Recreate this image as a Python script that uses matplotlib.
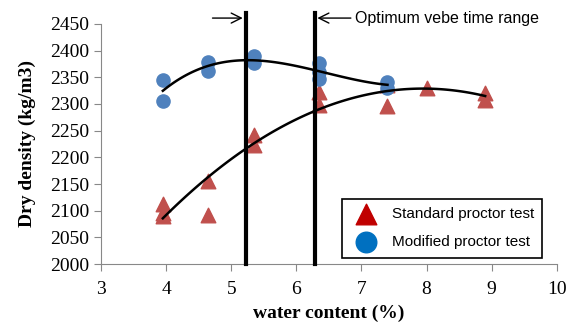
import matplotlib
matplotlib.use("Agg")
import matplotlib.pyplot as plt
import numpy as np

# standard proctor test (red triangles)
std_x = [3.95, 3.95, 3.95, 4.65, 4.65, 5.35, 5.35, 6.35, 6.35, 7.4, 7.4, 8.0, 8.9, 8.9]
std_y = [2113, 2096, 2090, 2156, 2092, 2242, 2224, 2323, 2298, 2336, 2296, 2330, 2320, 2308]

# modified proctor test (blue circles)
mod_x = [3.95, 3.95, 4.65, 4.65, 5.35, 5.35, 6.35, 6.35, 6.35, 7.4, 7.4]
mod_y = [2345, 2305, 2379, 2362, 2389, 2377, 2377, 2360, 2346, 2342, 2330]

# optimum vebe time range
vebe = [5.22, 6.28]

fig = plt.figure(figsize=(5.77, 3.28), dpi=100)
ax = fig.add_axes([0.175, 0.195, 0.79, 0.732])

ax.scatter(std_x, std_y, marker='^', s=110, color='#C0504D', zorder=3)
ax.scatter(mod_x, mod_y, marker='o', s=90, color='#4F81BD', zorder=3)

# trendlines (polynomial fits like excel)
c = np.polyfit(std_x, std_y, 2)
xx = np.linspace(min(std_x), max(std_x), 100)
ax.plot(xx, np.polyval(c, xx), color='black', lw=1.8, zorder=4)
c = np.polyfit(mod_x, mod_y, 3)
xx = np.linspace(min(mod_x), max(mod_x), 100)
ax.plot(xx, np.polyval(c, xx), color='black', lw=1.8, zorder=4)

for v in vebe:
    ax.plot([v, v], [2000, 2471], color='black', lw=3, clip_on=False, zorder=5)

ax.annotate('', xy=(vebe[0], 2461), xytext=(vebe[0] - 0.55, 2461),
            arrowprops=dict(arrowstyle='->', lw=1, color='black', mutation_scale=18),
            annotation_clip=False)
ax.annotate('', xy=(vebe[1], 2461), xytext=(vebe[1] + 0.6, 2461),
            arrowprops=dict(arrowstyle='->', lw=1, color='black', mutation_scale=18),
            annotation_clip=False)
ax.text(vebe[1] + 0.62, 2461, 'Optimum vebe time range', fontsize=11.5,
        family='Liberation Sans', va='center', ha='left')

ax.set_xlim(3, 10)
ax.set_ylim(2000, 2450)
ax.set_xticks(range(3, 11))
ax.set_yticks(range(2000, 2451, 50))
for s in ['top', 'right']:
    ax.spines[s].set_visible(False)
for s in ['left', 'bottom']:
    ax.spines[s].set_color('#888888')
ax.tick_params(direction='out', length=5, color='#888888', labelsize=14)
ax.tick_params(axis='x', pad=7)
for lab in ax.get_xticklabels() + ax.get_yticklabels():
    lab.set_family('Liberation Serif')

ax.set_xlabel('water content (%)', family='Liberation Serif', fontweight='bold',
              fontsize=14, labelpad=5)
ax.set_ylabel('Dry density (kg/m3)', family='Liberation Serif', fontweight='bold',
              fontsize=14, labelpad=10)

h1 = ax.scatter([], [], marker='^', s=220, color='#C00000')
h2 = ax.scatter([], [], marker='o', s=220, color='#0070C0')
leg = ax.legend([h1, h2], ['Standard proctor test', 'Modified proctor test'],
                loc='lower right', bbox_to_anchor=(0.985, -0.005), fancybox=False,
                edgecolor='black', prop={'family': 'Liberation Sans', 'size': 11},
                handletextpad=0.7, borderpad=0.55, labelspacing=0.9, framealpha=1)
leg.get_frame().set_linewidth(1.2)

fig.savefig('out.png', dpi=100)
